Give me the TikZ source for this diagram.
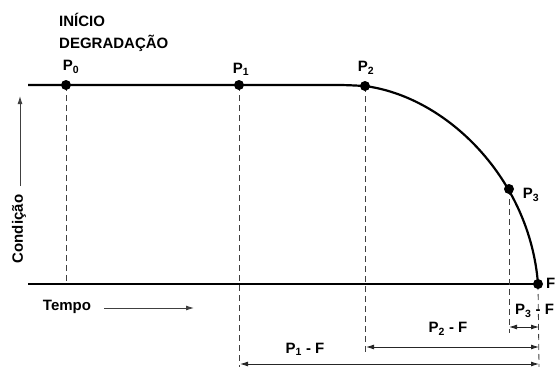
\documentclass[tikz,border=0pt]{standalone}
\usepackage{fontspec}
\setmainfont{Liberation Sans}
\usetikzlibrary{arrows.meta}

\tikzset{
  dot/.style={circle, fill=black, inner sep=0pt, minimum size=10pt},
  guide/.style={black!75, line width=0.8pt, dash pattern=on 6pt off 4pt},
  dim/.style={{Latex[length=8pt,width=5pt]}-{Latex[length=8pt,width=5pt]}, line width=0.9pt, black!85},
  axisarrow/.style={-{Latex[length=8pt,width=5pt]}, line width=0.9pt, black!75},
  lbl/.style={font=\fontsize{15}{17}\selectfont\bfseries, inner sep=1pt}
}

\begin{document}
\begin{tikzpicture}[x=1pt, y=-1pt]
        \useasboundingbox (0,0) rectangle (558,367);

        % Points
        \coordinate (P0) at (66,85);
        \coordinate (P1) at (239,85);
        \coordinate (P2) at (365,86);
        \coordinate (P3) at (509,189);
        \coordinate (F) at (538,284);
        \coordinate (topstart) at (28,85);
        \coordinate (botstart) at (28,284);

        % Condition line and curve
        \draw[line width=2.2pt] (topstart) -- (330,85) .. controls (345,85) .. (P2)
            .. controls (448,97) and (530,180) .. (F);
        \draw[line width=2.4pt] (botstart) -- (F);

        % Guide lines
        \coordinate (g0) at (P0 |- F);
        \coordinate (g1) at (239,367);
        \coordinate (g2) at (365,352);
        \coordinate (g3) at (509,333);
        \coordinate (gF) at (539,367);
        \draw[guide] (P0) -- (g0);
        \draw[guide] (P1) -- (g1);
        \draw[guide] (P2) -- (g2);
        \draw[guide] (P3) -- (g3);
        \draw[guide] (F) -- (gF);

        % Dots
        \foreach \p in {P0,P1,P2,P3,F}
            \node[dot] (d\p) at (\p) {};

        % Point labels
        \node[lbl] (l0) at (71,67) {P\textsubscript{0}};
        \node[lbl] (l1) at (241,69) {P\textsubscript{1}};
        \node[lbl] (l2) at (366,68) {P\textsubscript{2}};
        \node[lbl] (l3) at (531,195) {P\textsubscript{3}};
        \node[lbl, anchor=west] (lF) at (545,283) {F};

        % Start of degradation
        \node[lbl, anchor=west] (inicio) at (58,20) {INÍCIO};
        \node[lbl, anchor=west] (degr) at (58,43) {DEGRADAÇÃO};

        % Intervals
        \coordinate (a3) at (509,327);
        \coordinate (b3) at (539,327);
        \coordinate (a2) at (366,347);
        \coordinate (b2) at (539,347);
        \coordinate (a1) at (240,364);
        \coordinate (b1) at (539,364);
        \draw[dim] (a3) -- (b3);
        \draw[dim] (a2) -- (b2);
        \draw[dim] (a1) -- (b1);
        \node[lbl, anchor=west] (i3) at (514,311) {P\textsubscript{3} - F};
        \node[lbl] (i2) at (448,329) {P\textsubscript{2} - F};
        \node[lbl] (i1) at (305,349) {P\textsubscript{1} - F};

        % Axes
        \node[lbl] (tempo) at (67,307) {Tempo};
        \coordinate (t0) at (104,308);
        \coordinate (t1) at (194,308);
        \draw[axisarrow] (t0) -- (t1);
        \node[lbl, rotate=90] (cond) at (19,229) {Condição};
        \coordinate (c0) at (20,186);
        \coordinate (c1) at (20,96);
        \draw[axisarrow] (c0) -- (c1);
\end{tikzpicture}
\end{document}
